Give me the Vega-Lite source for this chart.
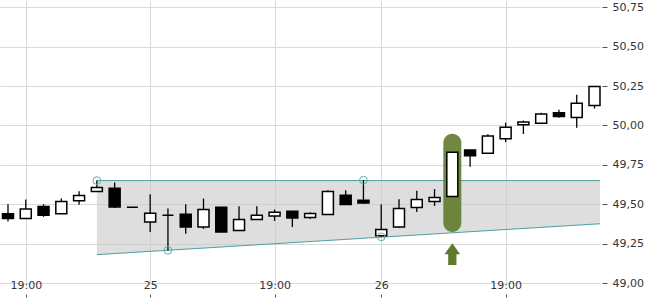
{
  "$schema": "https://vega.github.io/schema/vega-lite/v6.json",
  "width": 600,
  "height": 283,
  "autosize": "none",
  "padding": {"left": 0, "top": 0, "right": 50, "bottom": 17},
  "config": {
    "view": {"stroke": null},
    "font": "DejaVu Sans",
    "axis": {"gridColor": "#d9d9d9", "labelFont": "DejaVu Sans", "labelFontSize": 11, "labelColor": "#333", "tickColor": "#555", "title": null}
  },
  "datasets": {
    "candles": [
      {"i": 0, "o": 49.44, "c": 49.41, "h": 49.50, "l": 49.39},
      {"i": 1, "o": 49.41, "c": 49.47, "h": 49.53, "l": 49.41},
      {"i": 2, "o": 49.485, "c": 49.43, "h": 49.50, "l": 49.42},
      {"i": 3, "o": 49.44, "c": 49.517, "h": 49.536, "l": 49.44},
      {"i": 4, "o": 49.522, "c": 49.555, "h": 49.583, "l": 49.496},
      {"i": 5, "o": 49.581, "c": 49.606, "h": 49.65, "l": 49.581},
      {"i": 6, "o": 49.602, "c": 49.483, "h": 49.638, "l": 49.476},
      {"i": 7, "o": 49.48, "c": 49.48, "h": 49.48, "l": 49.48},
      {"i": 8, "o": 49.387, "c": 49.443, "h": 49.564, "l": 49.324},
      {"i": 9, "o": 49.43, "c": 49.43, "h": 49.473, "l": 49.207},
      {"i": 10, "o": 49.436, "c": 49.355, "h": 49.5, "l": 49.313},
      {"i": 11, "o": 49.355, "c": 49.466, "h": 49.536, "l": 49.343},
      {"i": 12, "o": 49.481, "c": 49.324, "h": 49.481, "l": 49.324},
      {"i": 13, "o": 49.333, "c": 49.403, "h": 49.487, "l": 49.333},
      {"i": 14, "o": 49.403, "c": 49.43, "h": 49.487, "l": 49.403},
      {"i": 15, "o": 49.425, "c": 49.449, "h": 49.466, "l": 49.394},
      {"i": 16, "o": 49.455, "c": 49.413, "h": 49.455, "l": 49.355},
      {"i": 17, "o": 49.415, "c": 49.441, "h": 49.449, "l": 49.406},
      {"i": 18, "o": 49.434, "c": 49.581, "h": 49.589, "l": 49.434},
      {"i": 19, "o": 49.557, "c": 49.498, "h": 49.589, "l": 49.498},
      {"i": 20, "o": 49.525, "c": 49.508, "h": 49.653, "l": 49.504},
      {"i": 21, "o": 49.30, "c": 49.339, "h": 49.5, "l": 49.295},
      {"i": 22, "o": 49.355, "c": 49.473, "h": 49.532, "l": 49.349},
      {"i": 23, "o": 49.479, "c": 49.53, "h": 49.585, "l": 49.451},
      {"i": 24, "o": 49.517, "c": 49.543, "h": 49.596, "l": 49.489},
      {"i": 25, "o": 49.549, "c": 49.829, "h": 49.829, "l": 49.549},
      {"i": 26, "o": 49.844, "c": 49.808, "h": 49.847, "l": 49.738},
      {"i": 27, "o": 49.823, "c": 49.933, "h": 49.944, "l": 49.823},
      {"i": 28, "o": 49.916, "c": 49.989, "h": 50.018, "l": 49.895},
      {"i": 29, "o": 50.005, "c": 50.022, "h": 50.031, "l": 49.946},
      {"i": 30, "o": 50.014, "c": 50.073, "h": 50.08, "l": 50.014},
      {"i": 31, "o": 50.08, "c": 50.056, "h": 50.099, "l": 50.048},
      {"i": 32, "o": 50.05, "c": 50.141, "h": 50.194, "l": 49.986},
      {"i": 33, "o": 50.126, "c": 50.247, "h": 50.247, "l": 50.107}
    ],
    "band": [
      {"i": 5, "top": 49.65, "bot": 49.18},
      {"i": 33.31, "top": 49.65, "bot": 49.376}
    ],
    "pivots": [
      {"i": 5, "p": 49.65},
      {"i": 9, "p": 49.207},
      {"i": 20, "p": 49.653},
      {"i": 21, "p": 49.293}
    ],
    "signal": [
      {"i": 25, "hi": 49.947, "lo": 49.324, "arrow": 49.183}
    ]
  },
  "encoding": {
    "x": {
      "field": "i", "type": "quantitative",
      "scale": {"domain": [-0.45, 33.31], "nice": false, "zero": false, "padding": 0},
      "axis": {
        "orient": "bottom", "values": [1, 8, 15, 21, 28],
        "labelExpr": "datum.value == 8 ? '25' : datum.value == 21 ? '26' : '19:00'",
        "domain": false, "offset": 14, "tickSize": -3, "labelPadding": -15, "grid": true
      }
    }
  },
  "layer": [
    {
      "data": {"name": "band"},
      "mark": {"type": "area", "color": "#c8c8c8", "opacity": 0.6},
      "encoding": {
        "y": {
          "field": "top", "type": "quantitative",
          "scale": {"domain": [49, 50.796], "nice": false, "zero": false, "padding": 0},
          "axis": {
            "orient": "right", "values": [49, 49.25, 49.5, 49.75, 50, 50.25, 50.5, 50.75],
            "labelExpr": "replace(format(datum.value, '.2f'), '.', ',')",
            "domain": false, "offset": 2, "tickSize": 5, "labelPadding": 5, "grid": true
          }
        },
        "y2": {"field": "bot"}
      }
    },
    {
      "data": {"name": "band"},
      "mark": {"type": "line", "color": "#4f9e9e", "strokeWidth": 1},
      "encoding": {"y": {"field": "top", "type": "quantitative"}}
    },
    {
      "data": {"name": "band"},
      "mark": {"type": "line", "color": "#4f9e9e", "strokeWidth": 1},
      "encoding": {"y": {"field": "bot", "type": "quantitative"}}
    },
    {
      "data": {"name": "signal"},
      "mark": {"type": "bar", "width": 18, "cornerRadius": 9, "color": "#617a2e", "opacity": 0.9},
      "encoding": {
        "y": {"field": "hi", "type": "quantitative"},
        "y2": {"field": "lo"}
      }
    },
    {
      "data": {"name": "candles"},
      "mark": {"type": "rule", "color": "#000", "strokeWidth": 1.3},
      "encoding": {
        "y": {"field": "l", "type": "quantitative"},
        "y2": {"field": "h"}
      }
    },
    {
      "data": {"name": "candles"},
      "mark": {"type": "bar", "width": 11, "stroke": "#000", "strokeWidth": 1.5},
      "encoding": {
        "y": {"field": "o", "type": "quantitative"},
        "y2": {"field": "c"},
        "fill": {"condition": {"test": "datum.o > datum.c", "value": "#000"}, "value": "#fff"}
      }
    },
    {
      "data": {"name": "pivots"},
      "mark": {"type": "point", "shape": "circle", "filled": false, "size": 60, "stroke": "#6aacac", "strokeWidth": 1, "opacity": 1},
      "encoding": {"y": {"field": "p", "type": "quantitative"}}
    },
    {
      "data": {"name": "signal"},
      "mark": {"type": "point", "shape": "M0,-1L0.72,0L0.38,0L0.38,1L-0.38,1L-0.38,0L-0.72,0Z", "filled": true, "size": 471, "color": "#617a2e", "opacity": 1},
      "encoding": {"y": {"field": "arrow", "type": "quantitative"}}
    }
  ]
}
